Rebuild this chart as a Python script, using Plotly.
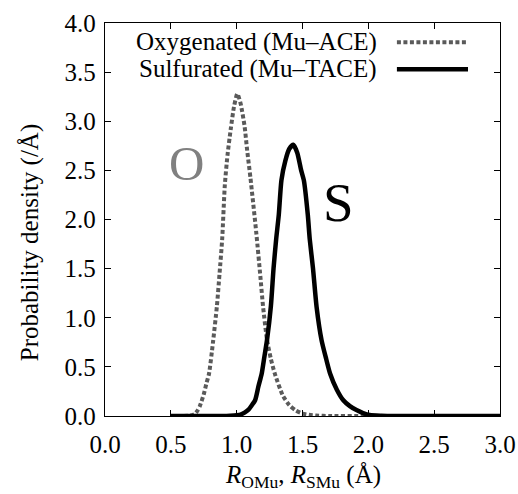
import plotly.graph_objects as go

# Data
o_x = [0.50, 0.60, 0.65, 0.68, 0.70, 0.72, 0.75, 0.77, 0.79, 0.82, 0.85, 0.87, 0.89, 0.91,
       0.93, 0.955, 0.98, 1.005, 1.03, 1.06, 1.08, 1.105, 1.15, 1.18, 1.20, 1.23, 1.26,
       1.29, 1.35, 1.40, 1.45, 1.50, 1.55, 1.60, 1.70, 2.00, 2.50, 3.00]
o_y = [0.0, 0.0, 0.005, 0.02, 0.05, 0.10, 0.22, 0.33, 0.43, 0.75, 1.12, 1.45, 1.80, 2.35,
       2.65, 2.92, 3.15, 3.28, 3.18, 2.95, 2.70, 2.42, 1.85, 1.42, 1.12, 0.78, 0.58,
       0.43, 0.21, 0.11, 0.055, 0.025, 0.012, 0.005, 0.0, 0.0, 0.0, 0.0]

s_x = [0.50, 0.90, 0.95, 1.00, 1.03, 1.06, 1.09, 1.11, 1.14, 1.165, 1.19, 1.21, 1.23,
       1.26, 1.28, 1.30, 1.32, 1.34, 1.37, 1.40, 1.43, 1.46, 1.49, 1.51, 1.54, 1.555,
       1.58, 1.607, 1.645, 1.68, 1.71, 1.76, 1.81, 1.86, 1.91, 1.96, 2.01, 2.10, 2.20,
       2.50, 3.00]
s_y = [0.0, 0.0, 0.003, 0.008, 0.015, 0.035, 0.065, 0.10, 0.16, 0.30, 0.43, 0.60, 0.77,
       1.12, 1.50, 1.80, 2.05, 2.40, 2.60, 2.72, 2.76, 2.68, 2.50, 2.40, 2.05, 1.80,
       1.50, 1.11, 0.77, 0.58, 0.43, 0.27, 0.16, 0.10, 0.06, 0.03, 0.01, 0.003, 0.0,
       0.0, 0.0]

series_names = ["Oxygenated (Mu\u2013ACE)", "Sulfurated (Mu\u2013TACE)"]
x_ticks = [0.0, 0.5, 1.0, 1.5, 2.0, 2.5, 3.0]
y_ticks = [0.0, 0.5, 1.0, 1.5, 2.0, 2.5, 3.0, 3.5, 4.0]
x_title = "<i>R</i><sub>OMu</sub>, <i>R</i><sub>SMu</sub> (Å)"
y_title = "Probability density (/Å)"

FONT = "Liberation Serif, DejaVu Serif, serif"
GRAY = "#5a5a5a"

fig = go.Figure()
fig.add_trace(go.Scatter(x=o_x, y=o_y, mode="lines", name=series_names[0],
                         line=dict(color=GRAY, width=4, dash="4px,2.5px", shape="spline", smoothing=0.6),
                         showlegend=False))
fig.add_trace(go.Scatter(x=s_x, y=s_y, mode="lines", name=series_names[1],
                         line=dict(color="black", width=4.5, shape="spline", smoothing=0.6),
                         showlegend=False))

# Legend drawn manually (text on the left, sample on the right)
rows = [(0.951, dict(color=GRAY, width=4, dash="4px,2.5px")),
        (0.882, dict(color="black", width=4.5))]
for name, (py, ln) in zip(series_names, rows):
    fig.add_annotation(x=0.693, y=py, xref="paper", yref="paper", text=name, showarrow=False,
                       xanchor="right", yanchor="middle", font=dict(family=FONT, size=25, color="black"))
    fig.add_shape(type="line", xref="paper", yref="paper", x0=0.739, x1=0.919, y0=py, y1=py,
                  line=ln)

fig.add_annotation(x=0.62, y=2.57, text="O", showarrow=False,
                   font=dict(family=FONT, size=49, color="#808080"))
fig.add_annotation(x=1.77, y=2.17, text="S", showarrow=False,
                   font=dict(family=FONT, size=55, color="black"))

# Axis titles as annotations for exact placement
fig.add_annotation(x=-0.19, y=0.442, xref="paper", yref="paper", text=y_title, textangle=-90,
                   showarrow=False, xanchor="center", yanchor="middle",
                   font=dict(family=FONT, size=25, color="black"))
fig.add_annotation(x=0.5, y=-0.155, xref="paper", yref="paper", text=x_title,
                   showarrow=False, xanchor="center", yanchor="middle",
                   font=dict(family=FONT, size=25, color="black"))

axis_common = dict(showgrid=False, zeroline=False, showline=True, linecolor="black", linewidth=1.3,
                   mirror="allticks", ticks="inside", ticklen=6, tickwidth=1.2, tickcolor="black",
                   automargin=False, ticklabeloverflow="allow",
                   tickfont=dict(family=FONT, size=25, color="black"))

fig.update_xaxes(range=[0, 3], tickvals=x_ticks, ticktext=[f"{v:.1f}" for v in x_ticks],
                 ticklabelstandoff=6, **axis_common)
fig.update_yaxes(range=[0, 4], tickvals=y_ticks, ticktext=[f"{v:.1f}" for v in y_ticks],
                 ticklabelstandoff=3, **axis_common)

fig.update_layout(width=518, height=494, margin=dict(l=105, r=18, t=23, b=78),
                  plot_bgcolor="white", paper_bgcolor="white", font=dict(family=FONT))

fig.write_html("out.html", config={"displayModeBar": False},
               post_script="document.body.style.margin='0';document.body.style.overflow='hidden';")
